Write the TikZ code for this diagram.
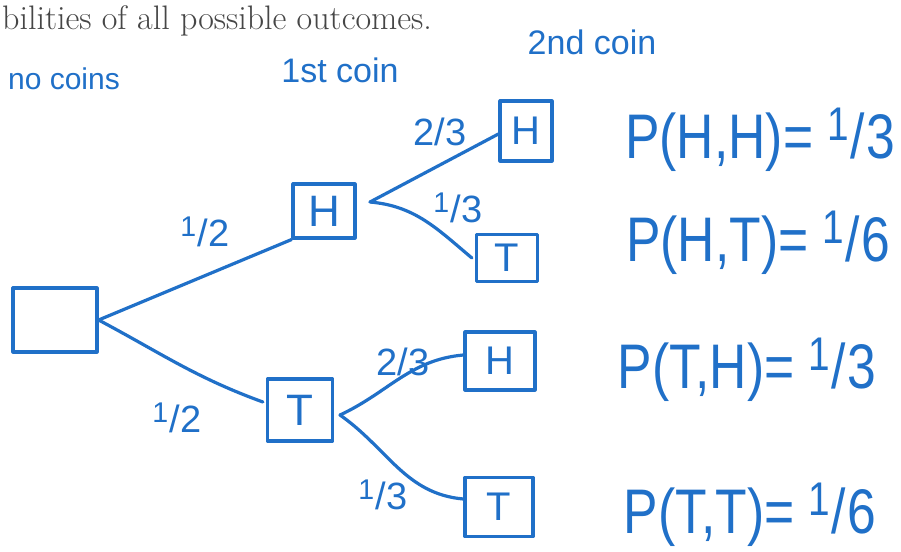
\documentclass[tikz,border=0pt]{standalone}
\usepackage{fontspec}
\newfontfamily\hand[FakeStretch=0.82]{Liberation Sans}
\newfontfamily\handn{Liberation Sans}
\definecolor{pen}{RGB}{32,112,200}
\definecolor{printgrey}{RGB}{70,70,70}
\newcommand\hfr[2]{\raisebox{.28em}{\scalebox{.75}{#1}}\kern.02em/\kern.02em#2}
\tikzset{
  penline/.style={draw=pen,line width=3.2pt,line cap=round,line join=round},
  pbox/.style={penline,rectangle,inner sep=0pt,text=pen},
  bigletter/.style={font=\handn\fontsize{44}{44}\selectfont},
  smallletter/.style={font=\handn\fontsize{40}{40}\selectfont},
  frlab/.style={text=pen,inner sep=0pt,font=\handn\fontsize{38}{38}\selectfont},
  head/.style={text=pen,inner sep=0pt,font=\handn\fontsize{34}{34}\selectfont},
  prob/.style={text=pen,inner sep=0pt,font=\hand\fontsize{63}{63}\selectfont},
}
\begin{document}
\begin{tikzpicture}[x=1pt,y=-1pt]
\useasboundingbox[fill=white] (0,0) rectangle (901,551);
% printed line
\node[anchor=base west,inner sep=0pt,text=printgrey,font=\fontsize{34}{34}\selectfont] (printed) at (2,30) {bilities of all possible outcomes.};
% headers
\node[head,font=\handn\fontsize{30}{30}\selectfont] (h0) at (64,79) {no coins};
\node[head] (h1) at (340,70) {1st coin};
\node[head] (h2) at (592,42) {2nd coin};
% boxes
\node[pbox,bigletter,minimum width=84pt,minimum height=64pt] (root) at (55,320) {};
\node[pbox,bigletter,minimum width=62pt,minimum height=54pt] (H1) at (324,211) {H};
\node[pbox,bigletter,minimum width=65pt,minimum height=62pt] (T1) at (300,410) {T};
\node[pbox,smallletter,minimum width=52pt,minimum height=60pt] (HH) at (526,131) {H};
\node[pbox,smallletter,minimum width=61pt,minimum height=47pt] (HT) at (507,258) {T};
\node[pbox,smallletter,minimum width=70pt,minimum height=58pt] (TH) at (500,361) {H};
\node[pbox,smallletter,minimum width=68pt,minimum height=59pt] (TT) at (499,507) {T};
% forks
\coordinate (fH) at (370,202);
\coordinate (fT) at (340,415);
% connectors
\draw[penline] (root.east) -- (H1.south west);
\draw[penline] (root.east) to[out=-28,in=160] ([xshift=-3pt,yshift=8pt]T1.west);
\draw[penline] (fH) -- ([yshift=-3pt]HH.west);
\draw[penline] (fH) to[out=-5,in=140] ([xshift=-3pt]HT.west);
\draw[penline] (fT) to[out=25,in=185] ([yshift=6pt]TH.west);
\draw[penline] (fT) to[out=-35,in=175] ([yshift=8pt]TT.west);
% labels
\node[frlab] (l1) at (205,232) {\hfr{1}{2}};
\node[frlab] (l2) at (177,418) {\hfr{1}{2}};
\node[frlab] (l3) at (440,132) {2/3};
\node[frlab] (l4) at (458,208) {\hfr{1}{3}};
\node[frlab] (l5) at (403,362) {2/3};
\node[frlab] (l6) at (383,495) {\hfr{1}{3}};
% outcomes
\node[prob] (p1) at (760,140) {P(H,H)= \hfr{1}{3}};
\node[prob] (p2) at (758,243) {P(H,T)= \hfr{1}{6}};
\node[prob] (p3) at (747,370) {P(T,H)= \hfr{1}{3}};
\node[prob] (p4) at (750,515) {P(T,T)= \hfr{1}{6}};
\end{tikzpicture}
\end{document}
